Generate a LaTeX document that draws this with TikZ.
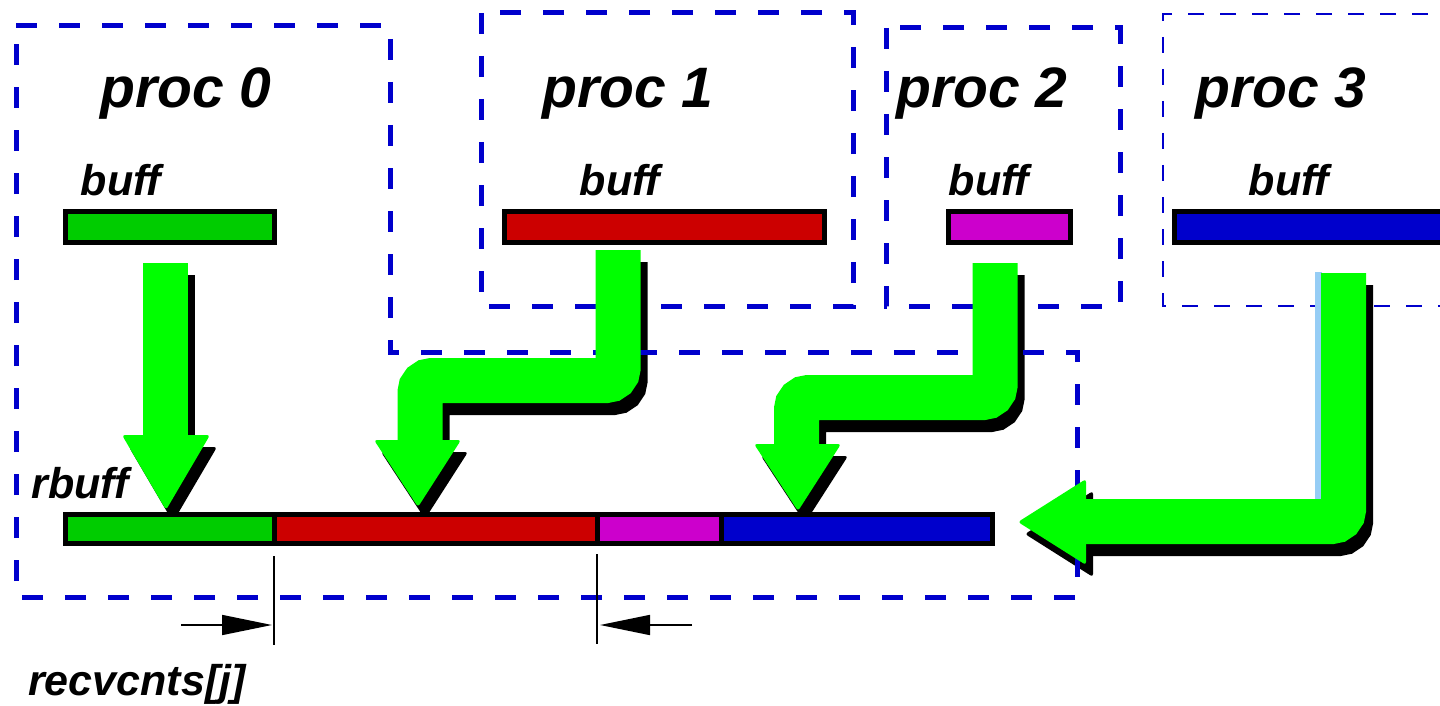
\documentclass[tikz,border=0pt]{standalone}
\usepackage{fontspec}
\setmainfont{Liberation Sans}
\usetikzlibrary{arrows.meta}
\definecolor{dblue}{RGB}{0,0,204}
\definecolor{bgreen}{RGB}{0,204,0}
\definecolor{bred}{RGB}{204,0,0}
\definecolor{bmag}{RGB}{204,0,204}
\definecolor{lime}{RGB}{0,255,0}
\definecolor{lblue}{RGB}{150,205,245}
\newcommand\myarrows[1]{%
  \draw[shaft,#1] (165.5,263) -- (165.5,437);
  \fill[head,#1] (122,435) -- (210,435) -- (166,510) -- cycle;
  \draw[shaft,#1] (618,250) -- (618,380.5) -- (420,380.5) -- (420,442);
  \fill[head,#1] (374,440) -- (461,440) -- (418,507) -- cycle;
  \draw[shaft,#1] (995,263) -- (995,397.5) -- (796.5,397.5) -- (796.5,446);
  \fill[head,#1] (754,444) -- (841,444) -- (798,511) -- cycle;
  \draw[shaft,#1] (1343.5,273) -- (1343.5,521.5) -- (1084,521.5);
  \fill[head,#1] (1086,479) -- (1086,565) -- (1018,522) -- cycle;
}
\begin{document}
\begin{tikzpicture}[x=0.5pt,y=-0.5pt,
  procbox/.style={draw=dblue,line width=2.5pt,dash pattern=on 10.5pt off 11pt},
  thinbox/.style={draw=dblue,line width=1.25pt,dash pattern=on 8pt off 8pt},
  bar/.style={draw=black,line width=2.5pt},
  shaft/.style={draw=#1,line width=22.5pt,rounded corners=6pt},
  head/.style={fill=#1,rounded corners=1.5pt},
  proclbl/.style={anchor=base,inner sep=0pt,font=\fontsize{28.5}{30}\selectfont\bfseries\itshape},
  lbl/.style={anchor=base,inner sep=0pt,font=\fontsize{21.5}{24}\selectfont\bfseries\itshape},
  meas/.style={draw=black,line width=0.8pt,-{Triangle[length=25pt,width=10pt]}},
  tick/.style={draw=black,line width=1pt}]
\useasboundingbox (0,0) rectangle (1440,706);
% shadows
\begin{scope}[shift={(7,12)}]
  \myarrows{black}
\end{scope}
% dashed process regions
\draw[procbox] (16,26) -- (390,26) -- (390,352) -- (1077,352) -- (1077,597) -- (16,597) -- cycle;
\draw[procbox] (481,13) rectangle (853,306);
\draw[procbox] (886,28) rectangle (1120,306);
\draw[thinbox] (1460,14) -- (1163,14) -- (1163,306) -- (1460,306);
% light blue strip
\fill[lblue] (1315,272) rectangle (1322,499);
% green arrows
\myarrows{lime}
% labels
\node[proclbl] (p0) at (186,108) {proc 0};
\node[proclbl] (p1) at (628,108) {proc 1};
\node[proclbl] (p2) at (982,108) {proc 2};
\node[proclbl] (p3) at (1281,108) {proc 3};
\node[lbl] (b0) at (121,195) {buff};
\node[lbl] (b1) at (620,195) {buff};
\node[lbl] (b2) at (989,195) {buff};
\node[lbl] (b3) at (1289,195) {buff};
\node[lbl] (rb) at (80,498) {rbuff};
\node[lbl] (rc) at (137,695) {recvcnts[j]};
% send buffers
\draw[bar,fill=bgreen] (65.5,211.5) rectangle (274.5,242.5);
\draw[bar,fill=bred] (504.5,211.5) rectangle (824,242.5);
\draw[bar,fill=bmag] (948.5,211.5) rectangle (1070.5,242.5);
\draw[bar,fill=dblue] (1174.5,211.5) rectangle (1460,242.5);
% receive buffer
\draw[bar,fill=bgreen] (65.5,514.5) rectangle (274,543.5);
\draw[bar,fill=bred] (274,514.5) rectangle (597,543.5);
\draw[bar,fill=bmag] (597,514.5) rectangle (721,543.5);
\draw[bar,fill=dblue] (721,514.5) rectangle (992.5,543.5);
% measure marks
\coordinate (t1a) at (274,556); \coordinate (t1b) at (274,645);
\coordinate (t2a) at (597,554); \coordinate (t2b) at (597,644);
\draw[tick] (t1a) -- (t1b);
\draw[tick] (t2a) -- (t2b);
\coordinate (m1s) at (181,625); \coordinate (m1e) at (272,625);
\coordinate (m2s) at (692,625); \coordinate (m2e) at (600,625);
\draw[meas] (m1s) -- (m1e);
\draw[meas] (m2s) -- (m2e);
\end{tikzpicture}
\end{document}
